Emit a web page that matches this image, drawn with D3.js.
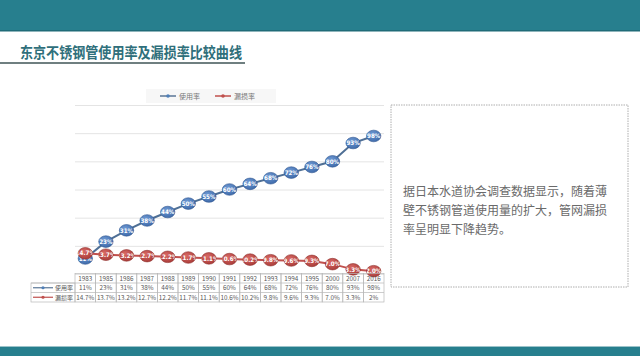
<!DOCTYPE html>
<html><head><meta charset="utf-8">
<script src="https://cdn.jsdelivr.net/npm/d3@7/dist/d3.min.js"></script>
<style>html,body{margin:0;padding:0;background:#fff;}svg{display:block;}</style>
</head><body>
<script>
const years = ["1983","1985","1986","1987","1988","1989","1990","1991","1992","1993","1994","1995","2000","2007","2016"];
const usage = [11,23,31,38,44,50,55,60,64,68,72,76,80,93,98];
const leak = [14.7,13.7,13.2,12.7,12.2,11.7,11.1,10.6,10.2,9.8,9.6,9.3,7.0,3.3,2];
const usageLabels = ["11%","23%","31%","38%","44%","50%","55%","60%","64%","68%","72%","76%","80%","93%","98%"];
const leakLabels = ["14.7%","13.7%","13.2%","12.7%","12.2%","11.7%","11.1%","10.6%","10.2%","9.8%","9.6%","9.3%","7.0%","3.3%","2%"];
const seriesNames = ["使用率","漏损率"];
const yTicks = [0,20,40,60,80,100,120];
const title = "东京不锈钢管使用率及漏损率比较曲线";
const noteLines = ["据日本水道协会调查数据显示，随着薄","壁不锈钢管道使用量的扩大，管网漏损","率呈明显下降趋势。"];

const W = 640, H = 356;
const font = "'Noto Sans CJK SC','Noto Sans',sans-serif";
const svg = d3.select("body").append("svg").attr("width", W).attr("height", H)
  .style("font-family", font);

// header / footer bands
svg.append("rect").attr("x",0).attr("y",0).attr("width",W).attr("height",31).attr("fill","#277f8e");
svg.append("rect").attr("x",0).attr("y",30).attr("width",W).attr("height",1.5).attr("fill","#1f6b78");
svg.append("rect").attr("x",0).attr("y",347).attr("width",W).attr("height",9).attr("fill","#277f8e");
svg.append("rect").attr("x",0).attr("y",346).attr("width",W).attr("height",1).attr("fill","#9cc3ca");

// title
svg.append("text").attr("x",20).attr("y",58).attr("font-size",15).attr("font-weight","bold")
  .attr("fill","#2f6f7b").attr("textLength",222).attr("lengthAdjust","spacingAndGlyphs").text(title);
svg.append("rect").attr("x",0).attr("y",62).attr("width",245).attr("height",2).attr("fill","#6f7f80");

// scales
const x = d3.scaleBand().domain(years).range([75,384]);
const y = d3.scaleLinear().domain([0,120]).range([274,105]);
const cx = d => x(d) + x.bandwidth()/2;

// gridlines
const grid = d3.axisLeft(y).tickValues(yTicks).tickSize(-(384-75)).tickFormat("");
const gG = svg.append("g").attr("transform","translate(75,0)").call(grid);
gG.select(".domain").remove();
gG.selectAll("line").attr("stroke","#e4e4e4").attr("stroke-width",1);

// legend
const legend = [{n:seriesNames[0],c:"#4f7fb8",lc:"#5a7696",x:160},{n:seriesNames[1],c:"#c0504d",lc:"#c0504d",x:215}];
svg.append("rect").attr("x",146).attr("y",89).attr("width",130).attr("height",14).attr("fill","#f7f7f7");
legend.forEach(l=>{
  svg.append("line").attr("x1",l.x).attr("x2",l.x+16).attr("y1",96).attr("y2",96).attr("stroke",l.lc).attr("stroke-width",1.5);
  svg.append("circle").attr("cx",l.x+8).attr("cy",96).attr("r",1.8).attr("fill",l.c);
  svg.append("text").attr("x",l.x+19).attr("y",98.5).attr("font-size",7).attr("fill","#777").text(l.n);
});

// defs gradients
const defs = svg.append("defs");
function grad(id, c1, c2){
  const g = defs.append("radialGradient").attr("id",id).attr("cx","40%").attr("cy","35%").attr("r","70%");
  g.append("stop").attr("offset","0%").attr("stop-color",c1);
  g.append("stop").attr("offset","100%").attr("stop-color",c2);
}
grad("gb","#6f9ad4","#3c68a8");
grad("gr","#d96a66","#a83a37");

function drawSeries(vals, labels, lineColor, gradId, stroke, key){
  const line = d3.line().x((d,i)=>cx(years[i])).y(d=>y(d));
  svg.append("path").datum(vals).attr("d",line).attr("fill","none").attr("stroke",lineColor).attr("stroke-width",2);
  const g = svg.append("g");
  vals.forEach((v,i)=>{
    const id = key+i;
    defs.append("clipPath").attr("id",id).append("ellipse")
      .attr("cx",cx(years[i])).attr("cy",y(v)).attr("rx",7.2).attr("ry",5.8);
    g.append("ellipse").attr("cx",cx(years[i])).attr("cy",y(v)).attr("rx",7.2).attr("ry",5.8)
      .attr("fill",`url(#${gradId})`).attr("stroke",stroke).attr("stroke-width",0.6);
    g.append("text").attr("x",cx(years[i])).attr("y",y(v)+2.2).attr("text-anchor","middle")
      .attr("font-size",6.2).attr("font-weight","bold").attr("fill","#fff")
      .attr("clip-path",`url(#${id})`).attr("font-family","'DejaVu Sans Condensed','Liberation Sans',sans-serif")
      .text(labels[i]);
  });
}
drawSeries(usage, usageLabels, "#4f6f95", "gb", "#2f5590", "cb");
drawSeries(leak, leak.map(v=>d3.format(".1f")(v)+"%"), "#c0504d", "gr", "#8e2f2c", "cr");

// data table
const rowTop = 273.5, rh = 9.5;
const tg = svg.append("g").attr("font-size",6.3).attr("fill","#555");
const borderC = "#b8b8b8";
years.forEach(yr=>{
  tg.append("rect").attr("x",x(yr)).attr("y",rowTop).attr("width",x.bandwidth()).attr("height",rh*3)
    .attr("fill","none").attr("stroke",borderC).attr("stroke-width",0.7);
});
tg.append("rect").attr("x",31).attr("y",rowTop+rh).attr("width",44).attr("height",rh*2)
  .attr("fill","none").attr("stroke",borderC).attr("stroke-width",0.7);
[1,2].forEach(r=>{
  tg.append("line").attr("x1",31).attr("x2",384).attr("y1",rowTop+rh*r).attr("y2",rowTop+rh*r)
    .attr("stroke",borderC).attr("stroke-width",0.7);
});
years.forEach((yr,i)=>{
  tg.append("text").attr("x",cx(yr)).attr("y",rowTop+7).attr("text-anchor","middle").text(yr);
  tg.append("text").attr("x",cx(yr)).attr("y",rowTop+rh+7).attr("text-anchor","middle").text(usageLabels[i]);
  tg.append("text").attr("x",cx(yr)).attr("y",rowTop+rh*2+7).attr("text-anchor","middle").text(leakLabels[i]);
});
legend.forEach((l,r)=>{
  const yy = rowTop + rh*(r+1) + rh/2;
  tg.append("line").attr("x1",33).attr("x2",53).attr("y1",yy).attr("y2",yy).attr("stroke",l.lc).attr("stroke-width",1.2);
  tg.append("circle").attr("cx",43).attr("cy",yy).attr("r",1.6).attr("fill",l.c);
  tg.append("text").attr("x",55).attr("y",yy+2.3).attr("font-size",6).text(l.n);
});

// note box
svg.append("rect").attr("x",391).attr("y",105).attr("width",237).attr("height",182)
  .attr("fill","#fff").attr("stroke","#999").attr("stroke-width",0.8).attr("stroke-dasharray","1.5,1");
noteLines.forEach((t,i)=>{
  svg.append("text").attr("x",403).attr("y",196+i*19).attr("font-size",12).attr("fill","#6a6a6a").text(t);
});
</script>
</body></html>
